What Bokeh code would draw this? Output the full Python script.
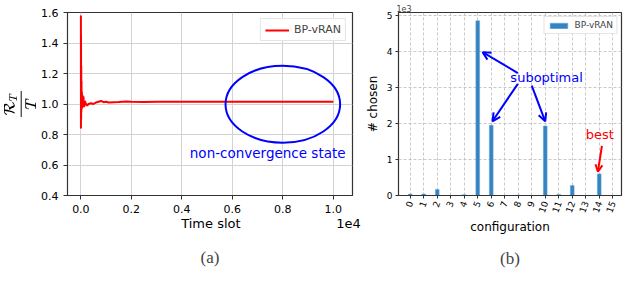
import math
from bokeh.plotting import figure
from bokeh.layouts import row
from bokeh.models import (Label, Arrow, OpenHead, Title, FixedTicker, Range1d, LinearAxis)
from bokeh.embed import file_html
from bokeh.resources import INLINE

# ---- data (a) ----
time_slot = [1, 3, 6, 10, 15, 20, 25, 30, 40, 50, 60, 80, 100, 130, 160, 200, 250, 300,
             400, 500, 600, 700, 800, 900, 1000, 1100, 1300, 1500, 1800, 2000, 2500, 3000,
             4000, 5000, 6000, 7000, 8000, 9000, 10000]
regret_ratio = [1.58, 0.84, 1.45, 0.90, 1.25, 0.95, 1.15, 0.98, 1.08, 0.97, 1.06, 0.99, 1.05,
                0.98, 1.02, 1.00, 0.99, 1.00, 1.005, 1.00, 1.01, 1.015, 1.02, 1.012, 1.015,
                1.01, 1.012, 1.013, 1.016, 1.014, 1.013, 1.014, 1.015, 1.015, 1.015, 1.015,
                1.015, 1.015, 1.015]
a_xticks = [0, 2000, 4000, 6000, 8000, 10000]
a_xtick_labels = ["0.0", "0.2", "0.4", "0.6", "0.8", "1.0"]
a_yticks = [0.4, 0.6, 0.8, 1.0, 1.2, 1.4, 1.6]
a_ytick_labels = ["0.4", "0.6", "0.8", "1.0", "1.2", "1.4", "1.6"]

# ---- data (b) ----
configuration = list(range(16))
times_chosen = [40, 40, 170, 0, 20, 4850, 1950, 0, 10, 0, 1930, 30, 280, 0, 600, 0]
b_yticks = [0, 1000, 2000, 3000, 4000, 5000]
b_ytick_labels = ["0", "1", "2", "3", "4", "5"]

FONT = "DejaVu Sans"

# ================= (a) =================
p1 = figure(width=362, height=278, output_backend="svg", toolbar_location=None,
            x_range=Range1d(-530, 10760), y_range=Range1d(0.4, 1.6),
            min_border_left=54, min_border_right=10, min_border_top=0, min_border_bottom=80)
p1.outline_line_color = "#333333"
p1.outline_line_width = 1.2
p1.line(time_slot, regret_ratio, line_color="red", line_width=2, legend_label="BP-vRAN")
p1.ellipse(x=[8000], y=[0.998], width=4540, height=0.505, fill_alpha=0,
           line_color="blue", line_width=2)
p1.add_layout(Label(x=7400, y=0.68, text="non-convergence state", text_color="blue",
                    text_font=FONT, text_font_size="13.5px", text_align="center",
                    text_baseline="middle"))
p1.xaxis.ticker = FixedTicker(ticks=a_xticks)
p1.xaxis.major_label_overrides = {t: l for t, l in zip(a_xticks, a_xtick_labels)}
p1.yaxis.ticker = FixedTicker(ticks=a_yticks)
p1.yaxis.major_label_overrides = {t: l for t, l in zip(a_yticks, a_ytick_labels)}
p1.yaxis.axis_label = r"$$\frac{\mathcal{R}_T}{T}$$"
for ax in (p1.xaxis, p1.yaxis):
    ax.major_label_text_font = FONT
    ax.major_label_text_font_size = "11px"
    ax.major_label_text_color = "black"
    ax.axis_label_text_font = FONT
    ax.axis_label_text_font_style = "normal"
    ax.axis_label_text_color = "black"
    ax.minor_tick_line_color = None
    ax.major_tick_in = 0
    ax.major_tick_out = 4
    ax.axis_line_color = "#333333"
    ax.major_tick_line_color = "#333333"
p1.yaxis.axis_label_text_font_size = "13px"
p1.yaxis.axis_label_standoff = 2
p1.grid.grid_line_color = "#d3d3d3"
p1.grid.grid_line_width = 1
# second (label-only) axis: holds "Time slot" and the "1e4" multiplier on one line
label_axis = LinearAxis(ticker=FixedTicker(ticks=[5150, 10600]),
                        major_label_overrides={5150: "Time slot", 10600: "1e4"},
                        axis_line_color=None, major_tick_line_color=None,
                        minor_tick_line_color=None, major_tick_in=0, major_tick_out=0,
                        major_label_standoff=0, major_label_text_font=FONT,
                        major_label_text_font_size="13px", major_label_text_color="black")
p1.add_layout(label_axis, "below")
p1.legend.location = "top_right"
p1.legend.label_text_font = FONT
p1.legend.label_text_font_size = "11px"
p1.legend.border_line_color = "#cccccc"
p1.legend.glyph_width = 24
p1.legend.glyph_height = 10
p1.legend.padding = 4
p1.legend.margin = 6
p1.legend.spacing = 0
p1.legend.label_height = 10
p1.add_layout(Title(text="(a)", align="center", text_font="Liberation Serif",
                    text_font_size="17px", text_font_style="normal", standoff=24), "below")

# ================= (b) =================
p2 = figure(width=262, height=278, output_backend="svg", toolbar_location=None,
            x_range=Range1d(-0.87, 15.65), y_range=Range1d(0, 5080),
            min_border_left=31, min_border_right=3, min_border_top=12, min_border_bottom=80)
p2.outline_line_color = "#333333"
p2.outline_line_width = 1.2
p2.vbar(x=configuration, top=times_chosen, width=0.28, fill_color="#3584c2",
        line_color="#6aa6d6", line_width=0.5, legend_label="BP-vRAN")
p2.xaxis.ticker = FixedTicker(ticks=configuration)
p2.xaxis.major_label_orientation = 70 * math.pi / 180
p2.yaxis.ticker = FixedTicker(ticks=b_yticks)
p2.yaxis.major_label_overrides = {t: l for t, l in zip(b_yticks, b_ytick_labels)}
p2.xaxis.axis_label = "configuration"
p2.yaxis.axis_label = "# chosen"
for ax in (p2.xaxis, p2.yaxis):
    ax.major_label_text_font = FONT
    ax.major_label_text_font_size = "9px"
    ax.major_label_text_color = "black"
    ax.axis_label_text_font = FONT
    ax.axis_label_text_font_style = "normal"
    ax.axis_label_text_font_size = "12px"
    ax.axis_label_text_color = "black"
    ax.minor_tick_line_color = None
    ax.major_tick_in = 0
    ax.major_tick_out = 3
    ax.axis_line_color = "#333333"
    ax.major_tick_line_color = "#333333"
p2.xaxis.axis_label_standoff = 2
p2.yaxis.axis_label_standoff = 4
p2.yaxis.major_label_standoff = 3
p2.xaxis.major_label_standoff = 3
p2.grid.grid_line_color = "#bbbbbb"
p2.grid.grid_line_dash = "3 2"
p2.grid.grid_line_width = 0.8
p2.add_layout(Title(text="1e3", align="left", text_font=FONT, text_font_size="8px",
                    text_font_style="normal", standoff=1, offset=-2), "above")
p2.add_layout(Label(x=10.1, y=3270, text="suboptimal", text_color="blue", text_font=FONT,
                    text_font_size="13px", text_align="center", text_baseline="middle"))
for xs, ys, xe, ye in [(7.97, 3400, 5.36, 3980), (7.97, 3100, 6.09, 2060), (9.0, 3050, 10.0, 2060)]:
    p2.add_layout(Arrow(end=OpenHead(size=8, line_color="blue", line_width=2),
                        x_start=xs, y_start=ys, x_end=xe, y_end=ye,
                        line_color="blue", line_width=2))
p2.add_layout(Label(x=14.05, y=1680, text="best", text_color="red", text_font=FONT,
                    text_font_size="13px", text_align="center", text_baseline="middle"))
p2.add_layout(Arrow(end=OpenHead(size=7, line_color="red", line_width=2),
                    x_start=14.2, y_start=1380, x_end=13.9, y_end=660,
                    line_color="red", line_width=2))
p2.legend.location = "top_right"
p2.legend.label_text_font = FONT
p2.legend.label_text_font_size = "9px"
p2.legend.border_line_color = "#cccccc"
p2.legend.glyph_width = 22
p2.legend.glyph_height = 7
p2.legend.padding = 3
p2.legend.margin = 4
p2.legend.label_height = 8
p2.add_layout(Title(text="(b)", align="center", text_font="Liberation Serif",
                    text_font_size="17px", text_font_style="normal", standoff=20), "below")

layout = row(p1, p2)
open("out.html", "w").write(file_html(layout, INLINE))
